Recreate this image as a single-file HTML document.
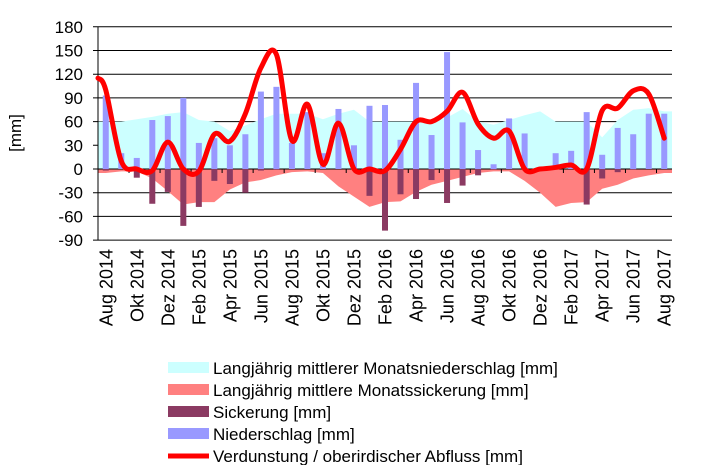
<!DOCTYPE html>
<html><head><meta charset="utf-8"><style>
body{margin:0;background:#fff;}
svg{display:block;font-family:"Liberation Sans",Arial,sans-serif;}
</style></head><body>
<svg id="chart" width="728" height="465" viewBox="0 0 728 465" xmlns="http://www.w3.org/2000/svg">
<g id="grid"></g>
<g id="areas"></g>
<g id="bars"></g>
<g id="axes"></g>
<g id="line"></g>
<text x="0" y="0" font-size="17" text-anchor="middle" transform="translate(21,133) rotate(-90)">[mm]</text>
<g id="legend"></g>
</svg>
<script>
const months = ["Aug 2014","Sep 2014","Okt 2014","Nov 2014","Dez 2014","Jan 2015","Feb 2015","Mrz 2015","Apr 2015","Mai 2015","Jun 2015","Jul 2015","Aug 2015","Sep 2015","Okt 2015","Nov 2015","Dez 2015","Jan 2016","Feb 2016","Mrz 2016","Apr 2016","Mai 2016","Jun 2016","Jul 2016","Aug 2016","Sep 2016","Okt 2016","Nov 2016","Dez 2016","Jan 2017","Feb 2017","Mrz 2017","Apr 2017","Mai 2017","Jun 2017","Jul 2017","Aug 2017"];
const niederschlag = [93,20,14,62,67,90,33,39,30,44,98,104,33,72,20,76,30,80,81,37,109,43,148,59,24,6,64,45,0,20,23,72,18,52,44,70,70];
const sickerung = [-2,0,-11,-44,-29,-72,-48,-15,-19,-30,-2,-1,0,0,0,0,0,-34,-78,-32,-38,-14,-43,-21,-8,-1,0,0,0,0,0,-45,-12,-4,-1,0,0];
const ltNiederschlag = [60,60,63,66,70,72,62,60,48,55,63,70,70,70,63,70,75,60,60,60,60,60,65,76,60,56,62,68,73,60,60,60,40,62,75,77,73];
const ltSickerung = [-5,-3,-3,-12,-28,-45,-42,-42,-26,-17,-14,-8,-4,-3,-5,-22,-35,-48,-42,-41,-29,-20,-15,-10,-5,-3,-3,-15,-30,-48,-43,-42,-25,-20,-12,-8,-5];
const verdunstung = [100,10,0,-2,34,0,-3,44,35,70,128,145,36,82,6,58,0,0,-2,25,60,60,73,97,57,39,48,0,0,2,5,0,74,77,99,95,39];
const yTicks = [180,150,120,90,60,30,0,-30,-60,-90];
const xLabelIdx = [0,2,4,6,8,10,12,14,16,18,20,22,24,26,28,30,32,34,36];

const NS="http://www.w3.org/2000/svg";
const X0=98, X1=672, band=(X1-X0)/months.length;
const Y0=169, k=0.79;
const x = i => X0 + band*(i+0.5);
const y = v => Y0 - v*k;
function mk(tag, attrs, parent){const e=document.createElementNS(NS,tag);for(const a in attrs)e.setAttribute(a,attrs[a]);parent.appendChild(e);return e;}
const grid=document.getElementById('grid'), areas=document.getElementById('areas'), bars=document.getElementById('bars'), axes=document.getElementById('axes'), lineG=document.getElementById('line'), legend=document.getElementById('legend');

yTicks.forEach(t=>{
  const l=mk('line',{x1:X0-5,x2:X1,y1:y(t),y2:y(t),stroke:'#000','stroke-width':1},grid);
  
  
  const tx=mk('text',{x:83,y:y(t)+6,'font-size':17,'text-anchor':'end'},axes);
  tx.textContent=t;
  
  
});

function areaPath(vals){
  let d='M'+X0+','+y(0)+' L'+X0+','+y(vals[0]);
  vals.forEach((v,i)=>{d+=' L'+x(i)+','+y(v);});
  d+=' L'+X1+','+y(vals[vals.length-1])+' L'+X1+','+y(0)+' Z';
  return d;
}
const a1=mk('path',{d:areaPath(ltNiederschlag),fill:'#ccffff'},areas);


const a2=mk('path',{d:areaPath(ltSickerung),fill:'#ff8080'},areas);


mk('line',{x1:X0,x2:X1,y1:y(0),y2:y(0),stroke:'#000','stroke-width':1},areas);

const bw=6;
months.forEach((m,i)=>{
  if(niederschlag[i]>0){
    const r=mk('rect',{x:x(i)-bw/2,y:y(niederschlag[i]),width:bw,height:niederschlag[i]*k,fill:'#9999ff'},bars);
    
    
  }
  if(sickerung[i]<0){
    const r=mk('rect',{x:x(i)-bw/2,y:y(0),width:bw,height:-sickerung[i]*k,fill:'#8b3a62'},bars);
    
    
  }
});

mk('line',{x1:X0,x2:X0,y1:y(180),y2:y(-90),stroke:'#000','stroke-width':1},axes);
for(let i=1;i<months.length;i+=2){
  const bx=X0+band*(i+0.5)+band/2;
  mk('line',{x1:bx,x2:bx,y1:y(0),y2:y(0)+4,stroke:'#000'},axes);
}
xLabelIdx.forEach(i=>{
  const t=mk('text',{x:0,y:0,'font-size':18,'text-anchor':'end',transform:'translate('+(x(i)+6.5)+',249) rotate(-90)'},axes);
  t.textContent=months[i];
  
  
});

const pts=verdunstung.map((v,i)=>[x(i),y(v)]);
pts.unshift([X0,y(verdunstung[0]+15)]);
let d='M'+pts[0][0]+','+pts[0][1];
for(let i=0;i<pts.length-1;i++){
  const p0=pts[Math.max(0,i-1)],p1=pts[i],p2=pts[i+1],p3=pts[Math.min(pts.length-1,i+2)];
  const c1=[p1[0]+(p2[0]-p0[0])/6,p1[1]+(p2[1]-p0[1])/6];
  const c2=[p2[0]-(p3[0]-p1[0])/6,p2[1]-(p3[1]-p1[1])/6];
  d+=' C'+c1[0]+','+c1[1]+' '+c2[0]+','+c2[1]+' '+p2[0]+','+p2[1];
}
const ln=mk('path',{d:d,fill:'none',stroke:'#ff0000','stroke-width':5,'stroke-linejoin':'round','stroke-linecap':'round'},lineG);



const leg=[
  ['rect','#ccffff','Langjährig mittlerer Monatsniederschlag [mm]'],
  ['rect','#ff8080','Langjährig mittlere Monatssickerung [mm]'],
  ['rect','#8b3a62','Sickerung [mm]'],
  ['rect','#9999ff','Niederschlag [mm]'],
  ['line','#ff0000','Verdunstung / oberirdischer Abfluss [mm]']
];
leg.forEach((e,j)=>{
  const cy=368+j*22;
  const g=mk('g',{},legend);
  
  
  if(e[0]==='rect') mk('rect',{x:168,y:cy-6,width:41,height:11,fill:e[1]},g);
  else mk('line',{x1:168,x2:209,y1:cy,y2:cy,stroke:e[1],'stroke-width':5},g);
  const t=mk('text',{x:213,y:cy+6,'font-size':17},g);
  t.textContent=e[2];
});
</script>
</body></html>
